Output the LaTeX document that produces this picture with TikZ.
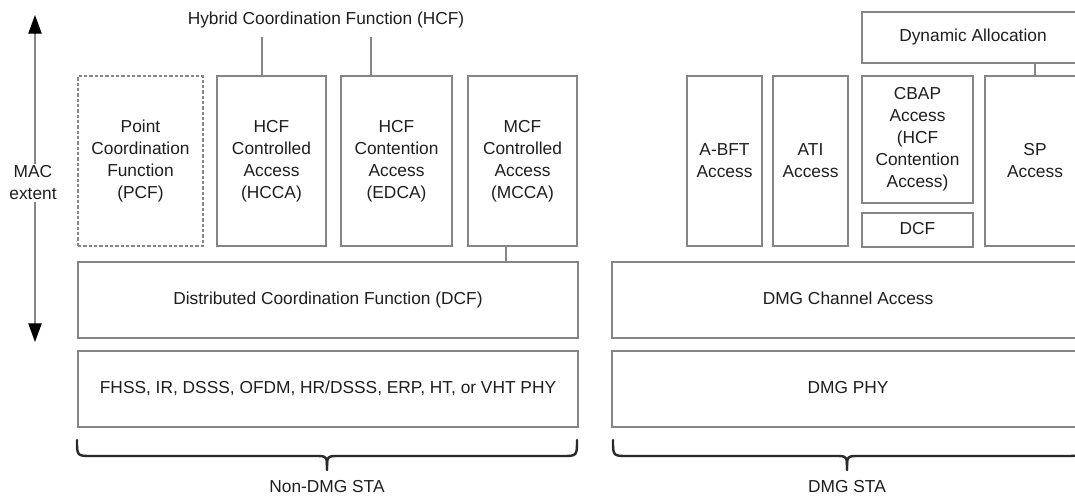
\documentclass[tikz,border=0pt]{standalone}
\usepackage{fontspec}
\setmainfont{Liberation Sans}
\usetikzlibrary{arrows.meta}
\definecolor{linegray}{HTML}{858585}
\definecolor{txt}{HTML}{1E1E1E}
\definecolor{bracec}{HTML}{2A2A2A}
\begin{document}
\begin{tikzpicture}[x=0.75pt,y=-0.75pt,
  every node/.style={text=txt,font=\fontsize{13}{16.5}\selectfont},
  box/.style={draw=linegray,line width=1.1pt,align=center,inner sep=0pt,rectangle},
  oneline/.style={text height=9.4pt,text depth=2.8pt},
  dashbox/.style={box,dash pattern=on 2.4pt off 1.6pt},
  conn/.style={draw=linegray,line width=0.9pt},
  bracepath/.style={draw=bracec,line width=1.8pt,line cap=round},
  extarrow/.style={draw=linegray,line width=0.9pt,-{Triangle[width=10pt,length=14pt,color=black]}}]
\useasboundingbox (0,0) rectangle (1075,499);
\clip (0,0) rectangle (1075,499);

% MAC extent
\node[align=center,inner sep=1pt] (mac) at (33,183) {MAC\\extent};
\coordinate (atop) at (35,15);
\coordinate (abot) at (35,342);
\draw[extarrow] (mac.north -| atop) -- (atop);
\draw[extarrow] (mac.south -| abot) -- (abot);

% Non-DMG side
\node[oneline] (hcf) at (326,20) {Hybrid Coordination Function (HCF)};
\node[dashbox,minimum width=93.75pt,minimum height=127.5pt] (pcf) at (140.5,161) {Point\\Coordination\\Function\\(PCF)};
\node[box,minimum width=81.75pt,minimum height=127.5pt] (hcca) at (271.5,161) {HCF\\Controlled\\Access\\(HCCA)};
\node[box,minimum width=83.25pt,minimum height=127.5pt] (edca) at (396.5,161) {HCF\\Contention\\Access\\(EDCA)};
\node[box,minimum width=81.75pt,minimum height=127.5pt] (mcca) at (522.5,161) {MCF\\Controlled\\Access\\(MCCA)};
\node[box,oneline,minimum width=375pt,minimum height=57pt] (dcf) at (328,300) {Distributed Coordination Function (DCF)};
\node[box,oneline,minimum width=375pt,minimum height=57pt] (phy) at (328,389) {FHSS, IR, DSSS, OFDM, HR/DSSS, ERP, HT, or VHT PHY};

\coordinate (h1) at (262,37);
\coordinate (h2) at (371,37);
\coordinate (m1) at (506,0);
\draw[conn] (h1) -- (h1 |- hcca.north);
\draw[conn] (h2) -- (h2 |- edca.north);
\draw[conn] (m1 |- mcca.south) -- (m1 |- dcf.north);

% DMG side
\node[box,oneline,minimum width=166.5pt,minimum height=38.25pt] (dyn) at (973,37.5) {Dynamic Allocation};
\node[box,minimum width=56.25pt,minimum height=127.5pt] (abft) at (724.5,161) {A-BFT\\Access};
\node[box,minimum width=56.25pt,minimum height=127.5pt] (ati) at (810.5,161) {ATI\\Access};
\node[box,minimum width=83.25pt,minimum height=95.25pt] (cbap) at (917.5,139.5) {CBAP\\Access\\(HCF\\Contention\\Access)};
\node[box,oneline,minimum width=83.25pt,minimum height=25.5pt] (dcfb) at (917.5,230) {DCF};
\node[box,minimum width=75pt,minimum height=127.5pt] (sp) at (1035,161) {SP\\Access};
\node[box,oneline,minimum width=354pt,minimum height=57pt] (dmgca) at (848,300) {DMG Channel Access};
\node[box,oneline,minimum width=354pt,minimum height=57pt] (dmgphy) at (848,389) {DMG PHY};
\draw[conn] (dyn.south -| sp.north) -- (sp.north);

% braces
\coordinate (b1l) at (77,440);
\coordinate (b1r) at (577,440);
\coordinate (b1t) at (327,470);
\draw[bracepath] (b1l) .. controls (77,456) .. (92,456) -- (315,456) .. controls (327,456) .. (b1t);
\draw[bracepath] (b1t) .. controls (327,456) .. (339,456) -- (562,456) .. controls (577,456) .. (b1r);
\node[oneline] (nondmg) at (327,488) {Non-DMG STA};

\coordinate (b2l) at (613,440);
\coordinate (b2r) at (1081,440);
\coordinate (b2t) at (847,470);
\draw[bracepath] (b2l) .. controls (613,456) .. (628,456) -- (835,456) .. controls (847,456) .. (b2t);
\draw[bracepath] (b2t) .. controls (847,456) .. (859,456) -- (1066,456) .. controls (1081,456) .. (b2r);
\node[oneline] (dmg) at (847,488) {DMG STA};
\end{tikzpicture}
\end{document}
